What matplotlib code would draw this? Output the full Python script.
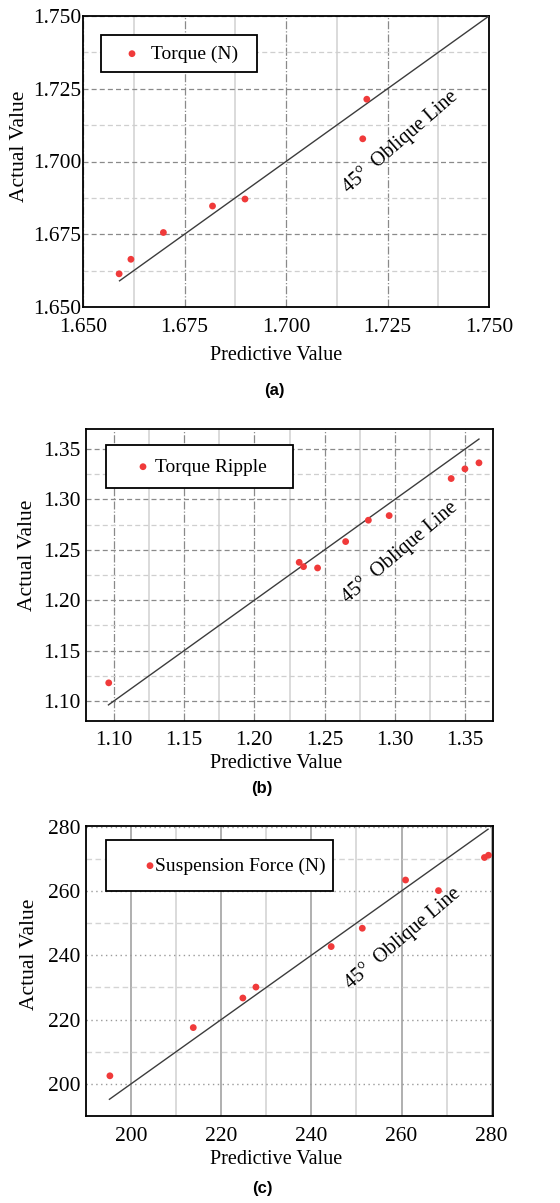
import matplotlib
matplotlib.use("Agg")
import matplotlib.pyplot as plt
from matplotlib.patches import Rectangle
from matplotlib.ticker import MultipleLocator, FormatStrFormatter

# ---------------- data ----------------
torque_pred = [1.6589, 1.6618, 1.6698, 1.6819, 1.6899, 1.7189, 1.7199]
torque_act = [1.6614, 1.6664, 1.6756, 1.6847, 1.6871, 1.7078, 1.7214]

ripple_pred = [1.0962, 1.2319, 1.2350, 1.2450, 1.2650, 1.2812, 1.2960, 1.3402, 1.3500, 1.3600]
ripple_act = [1.1179, 1.2376, 1.2333, 1.2320, 1.2582, 1.2794, 1.2840, 1.3208, 1.3304, 1.3364]

force_pred = [195.3, 213.8, 224.8, 227.7, 244.4, 251.3, 260.9, 268.2, 278.4, 279.3]
force_act = [202.5, 217.5, 226.7, 230.1, 242.7, 248.4, 263.4, 260.1, 270.4, 271.1]

line_a = [1.659, 1.750]
line_b = [1.096, 1.360]
line_c = [195.2, 279.2]

labels = ["Torque (N)", "Torque Ripple", "Suspension Force (N)"]
panel_tags = ["(a)", "(b)", "(c)"]
oblique_text = "45\u00b0  Oblique Line"
xlabel_text = "Predictive Value"
ylabel_text = "Actual Value"

# ---------------- styling ----------------
W, H = 560, 1203
DPI = 100
fig = plt.figure(figsize=(W / DPI, H / DPI), dpi=DPI)
SERIF = ["Liberation Serif", "DejaVu Serif"]
SANS = ["Liberation Sans", "DejaVu Sans"]
FS = 14
TICK_FS = 15.5
RED = "#f03a3a"
LINE = "#3c3c3c"


def fx(px):
    return px / W


def fy(py):
    return 1 - py / H


def make_axes(left, right, top, bottom):
    return fig.add_axes([fx(left), fy(bottom), fx(right - left), (bottom - top) / H])


def style(ax, ypad, xpad):
    for s in ax.spines.values():
        s.set_linewidth(1.3)
        s.set_color("black")
    ax.tick_params(which="both", length=0, labelsize=TICK_FS)
    ax.tick_params(axis="y", pad=ypad)
    ax.tick_params(axis="x", pad=xpad)
    for t in ax.get_xticklabels() + ax.get_yticklabels():
        t.set_fontfamily(SERIF)
    ax.set_axisbelow(True)


def legend_box(ax, x0, y0, x1, y1, mx, my, gap_em):
    rect = Rectangle((fx(x0), fy(y1)), fx(x1 - x0), (y1 - y0) / H,
                     transform=fig.transFigure, facecolor="white",
                     edgecolor="black", linewidth=1.3, zorder=5, clip_on=False)
    ax.add_patch(rect)
    h = 0.6
    fs_px = FS * DPI / 72
    left = mx - h / 2 * fs_px
    leg = ax.legend(loc="center left", bbox_to_anchor=(fx(left), fy(my)),
                    bbox_transform=fig.transFigure, frameon=False,
                    borderpad=0, borderaxespad=0, handlelength=h,
                    handletextpad=gap_em - h / 2, scatterpoints=1,
                    prop={"family": SERIF, "size": FS})
    leg.set_zorder(6)
    return leg


def common(ax, pred, act, line, label, xlab_y, ylab_xy, tag, tag_x, tag_y,
           txt_xy, rot):
    ax.scatter(pred, act, s=24, color=RED, edgecolors="none", zorder=4, label=label)
    ax.plot(line, line, color=LINE, lw=1.0, zorder=3)
    ax.text(txt_xy[0], txt_xy[1], oblique_text, rotation=rot, ha="center",
            va="center", rotation_mode="anchor", fontsize=14.5,
            family=SERIF, zorder=4)
    fig.text(fx(276), fy(xlab_y), xlabel_text, ha="center", va="center",
             fontsize=14.5, family=SERIF)
    fig.text(fx(ylab_xy[0]), fy(ylab_xy[1]), ylabel_text, ha="center", va="center",
             rotation=90, fontsize=15.5, family=SERIF)
    fig.text(fx(tag_x), fy(tag_y), tag, ha="center", va="center",
             fontsize=12, family=SANS, fontweight="bold")


# ---------------- panel (a) ----------------
axa = make_axes(83, 489, 16, 307)
axa.set_xlim(1.650, 1.750)
axa.set_ylim(1.650, 1.750)
axa.xaxis.set_major_locator(MultipleLocator(0.025))
axa.yaxis.set_major_locator(MultipleLocator(0.025))
axa.xaxis.set_minor_locator(MultipleLocator(0.0125))
axa.yaxis.set_minor_locator(MultipleLocator(0.0125))
axa.xaxis.set_major_formatter(FormatStrFormatter("%.3f"))
axa.yaxis.set_major_formatter(FormatStrFormatter("%.3f"))
axa.grid(which="major", axis="x", color="#8a8a8a", lw=0.9, ls="-.")
axa.grid(which="minor", axis="x", color="#d4d4d4", lw=1.2, ls="-")
axa.grid(which="major", axis="y", color="#8a8a8a", lw=0.9, ls=(0, (4, 2.5)))
axa.grid(which="minor", axis="y", color="#cfcfcf", lw=0.9, ls=(0, (4, 2.5)))
style(axa, 1, 8)
common(axa, torque_pred, torque_act, line_a, labels[0], 355, (20, 146), panel_tags[0],
       274, 390, (1.7282, 1.7069), 41)
legend_box(axa, 101, 35, 257, 72, 132, 54, 1.0)

# ---------------- panel (b) ----------------
axb = make_axes(86, 493, 429, 721)
axb.set_xlim(1.08, 1.37)
axb.set_ylim(1.08, 1.37)
axb.xaxis.set_major_locator(MultipleLocator(0.05))
axb.yaxis.set_major_locator(MultipleLocator(0.05))
axb.xaxis.set_minor_locator(MultipleLocator(0.025))
axb.yaxis.set_minor_locator(MultipleLocator(0.025))
axb.xaxis.set_major_formatter(FormatStrFormatter("%.2f"))
axb.yaxis.set_major_formatter(FormatStrFormatter("%.2f"))
axb.grid(which="major", axis="x", color="#8a8a8a", lw=0.9, ls="-.")
axb.grid(which="minor", axis="x", color="#d4d4d4", lw=1.2, ls="-")
axb.grid(which="major", axis="y", color="#8a8a8a", lw=0.9, ls=(0, (4, 2.5)))
axb.grid(which="minor", axis="y", color="#cfcfcf", lw=0.9, ls=(0, (4, 2.5)))
style(axb, 4, 7)
common(axb, ripple_pred, ripple_act, line_b, labels[1], 764, (28, 555), panel_tags[1],
       262, 788, (1.3033, 1.2475), 40.5)
legend_box(axb, 106, 445, 293, 488, 143, 467, 0.62)

# ---------------- panel (c) ----------------
axc = make_axes(86, 493, 826, 1116)
axc.set_xlim(190, 280.3)
axc.set_ylim(190, 280.2)
axc.xaxis.set_major_locator(MultipleLocator(20))
axc.yaxis.set_major_locator(MultipleLocator(20))
axc.xaxis.set_minor_locator(MultipleLocator(10))
axc.yaxis.set_minor_locator(MultipleLocator(10))
axc.grid(which="major", axis="x", color="#9a9a9a", lw=1.1, ls="-")
axc.grid(which="minor", axis="x", color="#d4d4d4", lw=1.2, ls="-")
axc.grid(which="major", axis="y", color="#9a9a9a", lw=1.0, ls=(0, (1, 2.5)))
axc.grid(which="minor", axis="y", color="#d4d4d4", lw=1.0, ls=(0, (4, 2.5)))
style(axc, 4, 8)
common(axc, force_pred, force_act, line_c, labels[2], 1160, (29, 954), panel_tags[2],
       262, 1188, (260.4, 245.3), 40.5)
legend_box(axc, 106, 840, 333, 891, 150, 866, 0.24)

fig.savefig("out.png", dpi=DPI)
